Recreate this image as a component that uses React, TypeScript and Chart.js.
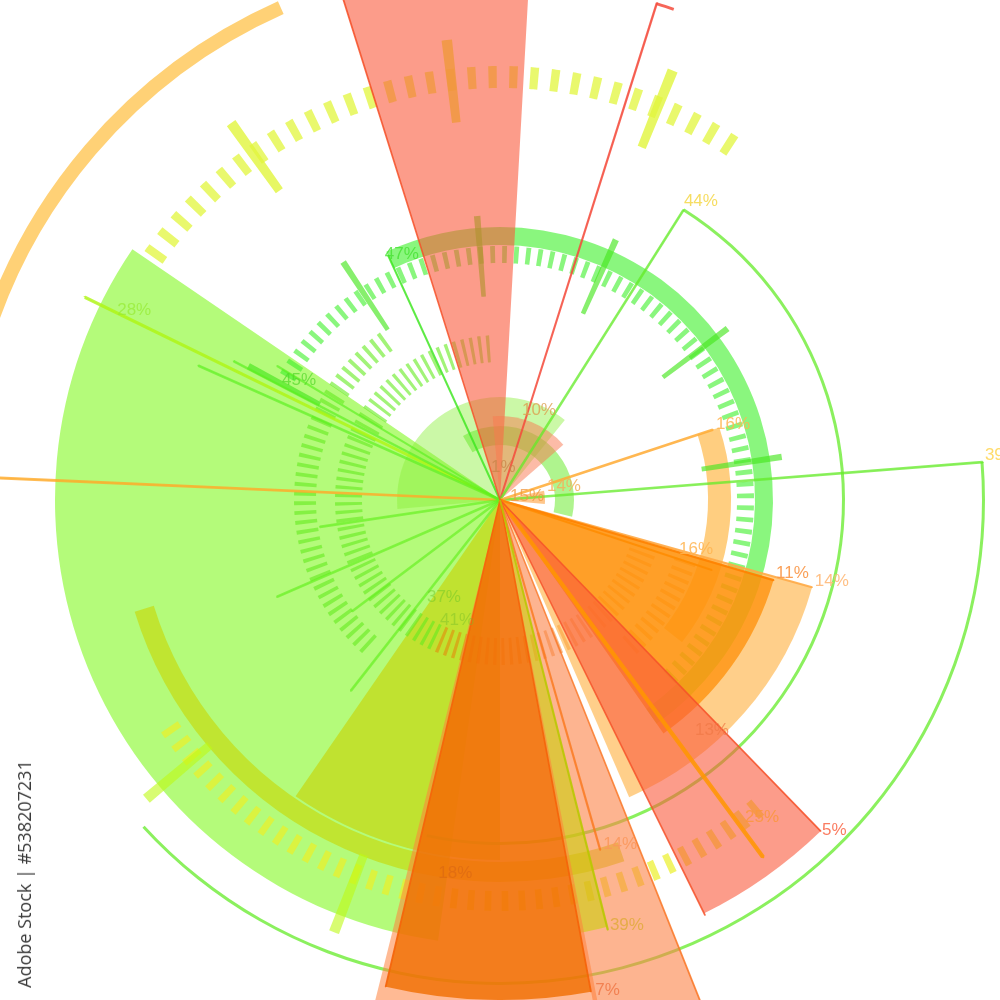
import React, { useEffect, useRef } from 'react';
import { Chart, registerables } from 'chart.js';

Chart.register(...registerables);

const CLEAR = 'rgba(0,0,0,0)';

// ---------- Wedges from the centre (polar area): start angle (deg, clockwise from 12 o'clock), sweep, radius
const wedgeStart = [188, 265, 180, 158.2, 165.9, 169, 169.5, 105.6, 106.3, 135.9, 342.6, 355, 78];
const wedgeSweep = [116.3, 134, 34.6, 11.3, 3.6, 25, 23.7, 50.9, 38.7, 17.8, 20.6, 53.9, 17];
const wedgeRadius = [445, 103, 360, 560, 440, 530, 500, 324, 285, 461, 600, 84, 45];
// 0 = painted below the rings, 1 = painted above them
const wedgeLayer = [0, 0, 0, 1, 1, 1, 1, 1, 1, 1, 1, 1, 1];
const wedgeColor = [
  'rgba(119,248,13,0.55)',
  'rgba(140,240,60,0.45)',
  'rgba(200,210,0,0.6)',
  'rgba(252,130,70,0.6)',
  'rgba(200,210,0,0.55)',
  'rgba(255,130,60,0.55)',
  'rgba(240,110,0,0.8)',
  'rgba(255,175,60,0.6)',
  'rgba(255,140,0,0.7)',
  'rgba(250,90,60,0.6)',
  'rgba(250,90,60,0.6)',
  'rgba(250,120,80,0.5)',
  'rgba(255,160,60,0.6)',
];

// ---------- Radial lines: angle, length
const lineAngle = [17.5, 32.3, 85.5, 71.7, 335.4, 296, 272.5, 294, 297.5, 301, 218, 233, 246.5, 261.5, 143.6, 164, 108.3, 105.6, 106.3, 135.9, 153.7, 342.6, 169.5, 193.2, 158.2, 165.9];
const lineLength = [521, 343, 484, 224, 269, 462, 560, 330, 300, 260, 242, 185, 243, 182, 443, 364, 223, 324, 285, 461, 463, 600, 500, 500, 560, 443];
const lineColor = [
  'rgba(245,75,60,0.85)', 'rgba(100,235,40,0.75)', 'rgba(100,235,40,0.75)', 'rgba(255,170,50,0.85)',
  'rgba(60,230,30,0.8)', 'rgba(175,245,20,0.8)', 'rgba(255,170,40,0.8)', 'rgba(90,240,30,0.65)',
  'rgba(90,240,30,0.65)', 'rgba(90,240,30,0.65)', 'rgba(100,240,30,0.65)', 'rgba(100,240,30,0.65)',
  'rgba(100,240,30,0.65)', 'rgba(100,240,30,0.65)', 'rgba(255,150,0,0.85)', 'rgba(250,120,30,0.8)',
  'rgba(255,140,0,0.85)', 'rgba(255,170,70,0.9)', 'rgba(255,130,0,0.9)', 'rgba(245,80,40,0.8)',
  'rgba(245,80,40,0.8)', 'rgba(245,80,40,0.8)', 'rgba(245,100,10,0.9)', 'rgba(245,100,10,0.9)',
  'rgba(250,120,40,0.8)', 'rgba(185,200,0,0.85)',
];
const lineWidth = [2, 2.5, 2.5, 2.5, 2, 3, 2.5, 2.5, 2.5, 2, 2.5, 2.5, 2.5, 2.5, 4, 2, 2, 2, 2, 1.5, 1.5, 1.5, 1.5, 1.5, 1.5, 2];

// ---------- Percent labels: text, angle, radius
const labelText = ['44%', '47%', '28%', '45%', '10%', '16%', '1%', '14%', '15%', '16%', '11%', '14%', '39%', '37%', '41%', '13%', '25%', '5%', '14%', '18%', '39%', '7%'];
const labelAngle = [31.6, 334.9, 296.3, 298.8, 13.7, 70.6, 344.7, 73.4, 68, 105.3, 104.8, 104.4, 84.7, 217, 206.6, 139.8, 142.3, 135.7, 163.3, 189.4, 165.5, 169];
const labelRadius = [351, 271.6, 427, 248.8, 92.6, 229, 34.2, 49, 10.8, 185.6, 285.5, 325, 487, 121.4, 134, 302, 400.6, 461, 359, 378, 439, 499];
const labelColor = [
  'rgba(245,215,70,0.85)', 'rgba(70,225,50,0.8)', 'rgba(150,235,50,0.7)', 'rgba(80,215,40,0.7)',
  'rgba(220,160,80,0.8)', 'rgba(255,180,80,0.85)', 'rgba(200,130,70,0.7)', 'rgba(245,175,90,0.85)',
  'rgba(240,150,60,0.75)', 'rgba(255,180,80,0.85)', 'rgba(250,150,70,0.9)', 'rgba(255,185,120,0.9)',
  'rgba(255,215,90,0.9)', 'rgba(110,200,40,0.5)', 'rgba(120,190,40,0.45)', 'rgba(240,120,70,0.7)',
  'rgba(250,150,60,0.85)', 'rgba(250,110,80,0.9)', 'rgba(250,150,90,0.85)', 'rgba(215,100,20,0.55)',
  'rgba(225,170,60,0.85)', 'rgba(240,120,70,0.85)',
];

// ---------- Ring bands (outer, inner radius)
const ringBands: [number, number][] = [[546, 532], [522, 519], [485, 482], [434, 412], [411, 391], [382, 362], [345, 342], [273, 255], [254, 237], [231, 208], [206, 184], [165, 138], [74, 55]];
// solid arcs in the bands
const arcBand = [0, 1, 2, 5, 6, 7, 9, 12];
const arcStart = [285, 17.5, 85.5, 161, 32.3, 335.4, 71.7, 330];
const arcSweep = [51, 2, 142, 92, 160, 169.6, 56.3, 133];
const arcColor = ['rgba(255,190,60,0.7)', 'rgba(245,75,60,0.85)', 'rgba(100,235,40,0.75)', 'rgba(200,215,0,0.6)', 'rgba(100,235,40,0.75)', 'rgba(60,240,40,0.6)', 'rgba(255,180,60,0.65)', 'rgba(110,235,50,0.55)'];
// tick runs in the bands
const tickBand = [3, 4, 8, 10, 10, 11, 11];
const tickStart = [305, 140, 300, 222, 108, 205, 110];
const tickSweep = [90, 97, 198, 104, 32, 153, 95];
const tickCount = [32, 40, 72, 38, 12, 51, 32];
const tickColor = ['rgba(225,245,60,0.75)', 'rgba(235,240,40,0.7)', 'rgba(60,240,40,0.6)', 'rgba(100,235,30,0.6)', 'rgba(255,130,0,0.5)', 'rgba(100,235,30,0.6)', 'rgba(240,110,0,0.45)'];

// ---------- Long ticks
const longBands: [number, number][] = [[463, 380], [285, 204]];
const longTickBand = [0, 0, 0, 0, 0, 1, 1, 1, 1, 1, 1];
const longTickAngle = [324.5, 353.4, 21.9, 201, 229.8, 298, 326.6, 355.4, 24, 53, 81.3];
const longTickColor = ['rgba(225,245,60,0.8)', 'rgba(225,245,60,0.8)', 'rgba(225,245,60,0.8)', 'rgba(190,250,20,0.6)', 'rgba(190,250,20,0.6)', 'rgba(70,230,30,0.65)', 'rgba(70,230,30,0.65)', 'rgba(70,230,30,0.65)', 'rgba(70,230,30,0.65)', 'rgba(70,230,30,0.65)', 'rgba(70,230,30,0.65)'];

type Seg = [number, number, string];

function ringDataset(segs: Seg[], weight: number) {
  const pieces: Seg[] = [];
  segs.forEach(([s, sw, c]) => {
    const st = ((s % 360) + 360) % 360;
    if (st + sw > 360) {
      pieces.push([st, 360 - st, c]);
      pieces.push([0, st + sw - 360, c]);
    } else pieces.push([st, sw, c]);
  });
  pieces.sort((a, b) => a[0] - b[0]);
  const data: number[] = [];
  const colors: string[] = [];
  let cur = 0;
  pieces.forEach(([st, sw, c]) => {
    if (st > cur) { data.push(st - cur); colors.push(CLEAR); }
    const s2 = Math.max(st, cur);
    const len = st + sw - s2;
    if (len > 0) { data.push(len); colors.push(c); cur = s2 + len; }
  });
  if (cur < 360) { data.push(360 - cur); colors.push(CLEAR); }
  return { data, backgroundColor: colors, borderWidth: 0, weight };
}

function bandDatasets(bands: [number, number][], segs: Seg[][], outer: number) {
  const ds: any[] = [];
  let cursor = outer;
  bands.forEach(([o, i], bi) => {
    if (cursor > o) ds.push(ringDataset([], cursor - o));
    ds.push(ringDataset(segs[bi], o - i));
    cursor = i;
  });
  if (cursor > 0) ds.push(ringDataset([], cursor));
  return ds;
}

function doughnutConfig(datasets: any[], radius: number) {
  return {
    type: 'doughnut',
    data: { datasets },
    options: {
      responsive: false,
      animation: false,
      events: [],
      cutout: 0,
      radius,
      rotation: 0,
      circumference: 360,
      layout: { padding: 0 },
      plugins: { legend: { display: false }, tooltip: { enabled: false } },
    },
  } as any;
}

function ringConfig() {
  const segs: Seg[][] = ringBands.map(() => []);
  arcBand.forEach((b, i) => segs[b].push([arcStart[i], arcSweep[i], arcColor[i]]));
  tickBand.forEach((b, i) => {
    const period = tickSweep[i] / tickCount[i];
    for (let k = 0; k < tickCount[i]; k++) segs[b].push([tickStart[i] + k * period, period * 0.4, tickColor[i]]);
  });
  return doughnutConfig(bandDatasets(ringBands, segs, 550), 550);
}

function longTickConfig() {
  const segs: Seg[][] = longBands.map(() => []);
  longTickBand.forEach((b, i) => segs[b].push([longTickAngle[i] - 0.65, 1.3, longTickColor[i]]));
  return doughnutConfig(bandDatasets(longBands, segs, 470), 470);
}

const polarOptions = {
  responsive: false,
  animation: false,
  events: [],
  layout: { padding: 0 },
  plugins: { legend: { display: false }, tooltip: { enabled: false } },
  scales: { r: { display: false, min: 0, max: 500, startAngle: 0 } },
};

// Chart.js paints dataset 0 last (on top), so lists are reversed to keep the array order = paint order
function wedgeConfig(layer: number) {
  return () => {
    const datasets: any[] = [];
    wedgeStart.forEach((s, i) => {
      if (wedgeLayer[i] !== layer) return;
      const angles = [s, wedgeSweep[i]];
      datasets.push({
        data: [0, wedgeRadius[i]],
        angle: (ctx: any) => angles[ctx.dataIndex],
        backgroundColor: [CLEAR, wedgeColor[i]],
        borderWidth: 0,
      });
    });
    return { type: 'polarArea', data: { datasets: datasets.reverse() }, options: polarOptions } as any;
  };
}

const labelPlugin = {
  id: 'pctLabels',
  afterDatasetsDraw(chart: any) {
    const scale = chart.scales.r;
    const ctx = chart.ctx;
    ctx.save();
    ctx.font = '17px "Liberation Sans", Arial, sans-serif';
    ctx.textBaseline = 'middle';
    ctx.textAlign = 'left';
    labelText.forEach((t, i) => {
      const a = (labelAngle[i] * Math.PI) / 180;
      const d = scale.getDistanceFromCenterForValue(labelRadius[i]);
      ctx.fillStyle = labelColor[i];
      ctx.fillText(t, scale.xCenter + d * Math.sin(a), scale.yCenter - d * Math.cos(a));
    });
    ctx.restore();
  },
};

function lineConfig() {
  const datasets = lineAngle.map((a, i) => {
    const angles = [a, 0.04];
    return {
      data: [0, lineLength[i]],
      angle: (ctx: any) => angles[ctx.dataIndex],
      backgroundColor: [CLEAR, lineColor[i]],
      borderColor: [CLEAR, lineColor[i]],
      borderWidth: [0, lineWidth[i]],
      borderAlign: 'center',
    };
  }).reverse();
  return { type: 'polarArea', data: { datasets }, options: polarOptions, plugins: [labelPlugin] } as any;
}

const baseWedges = wedgeConfig(0);
const topWedges = wedgeConfig(1);

function ChartLayer({ make }: { make: () => any }) {
  const ref = useRef<HTMLCanvasElement>(null);
  useEffect(() => {
    const chart = new Chart(ref.current as HTMLCanvasElement, make());
    return () => chart.destroy();
  }, []);
  return <canvas ref={ref} width={1000} height={1000} style={{ position: 'absolute', left: 0, top: 0 }} />;
}

export default function App() {
  return (
    <div style={{ position: 'fixed', left: 0, top: 0, width: 1000, height: 1000, background: '#ffffff', overflow: 'hidden' }}>
      <ChartLayer make={baseWedges} />
      <ChartLayer make={ringConfig} />
      <ChartLayer make={longTickConfig} />
      <ChartLayer make={topWedges} />
      <ChartLayer make={lineConfig} />
      <div
        style={{
          position: 'absolute',
          left: 24,
          top: 874,
          transform: 'translate(-50%, -50%) rotate(-90deg)',
          whiteSpace: 'nowrap',
          font: '18px "Open Sans", sans-serif',
          color: '#3a3a3a',
        }}
      >
        Adobe Stock | #538207231
      </div>
    </div>
  );
}
